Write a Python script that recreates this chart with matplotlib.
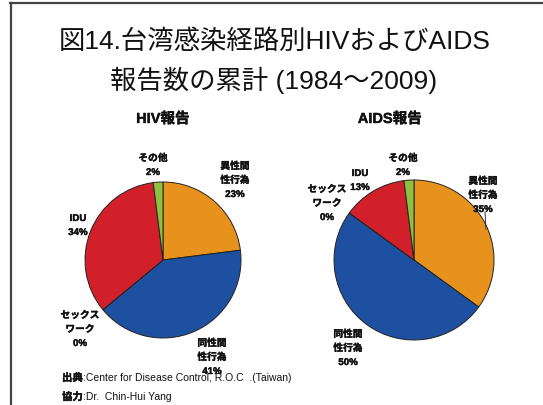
import matplotlib
matplotlib.use("Agg")
import matplotlib.pyplot as plt
import matplotlib.patheffects as pe
from matplotlib.lines import Line2D

plt.rcParams["font.family"] = ["Noto Sans CJK JP", "DejaVu Sans"]
LAT = ["Liberation Sans", "Noto Sans CJK JP"]
BOLD = [pe.withStroke(linewidth=0.25, foreground="black")]

W, H = 543, 405

# data
routes = ["異性間\n性行為", "同性間\n性行為", "セックス\nワーク", "IDU", "その他"]
hiv_pct = [23, 41, 0, 34, 2]
aids_pct = [35, 50, 0, 13, 2]
colors = ["#E8921E", "#1E50A2", "#1E50A2", "#D2202A", "#8EC23E"]

# label pixel positions (x, y of the label block centre)
hiv_label_pos = [(235, 180), (212, 357), (80, 329), (78, 225), (153, 165)]
aids_label_pos = [(483, 195), (348, 348), (327, 203), (360, 180), (403, 165)]


def fx(x):
    return x / W


def fy(y):
    return 1 - y / H


def draw_pie(fig, cx, cy, r, values, label_pos):
    ax = fig.add_axes([fx(cx - r), fy(cy + r), 2 * r / W, 2 * r / H])
    ax.pie(values, colors=colors, startangle=90, counterclock=False,
           wedgeprops=dict(edgecolor="#222222", linewidth=0.7))
    ax.set_xlim(-1, 1)
    ax.set_ylim(-1, 1)
    ax.set_aspect("equal")
    ax.axis("off")
    for name, v, (lx, ly) in zip(routes, values, label_pos):
        fig.text(fx(lx), fy(ly), f"{name}\n{v}%", ha="center", va="center",
                 fontsize=7, fontweight="bold", linespacing=1.5, family=LAT,
                 color="#111111", path_effects=BOLD)


fig = plt.figure(figsize=(W / 100, H / 100), dpi=100)

# frame lines (top and left)
fig.add_artist(Line2D([fx(10), 1], [fy(3), fy(3)], color="#444444", lw=1.6))
fig.add_artist(Line2D([fx(10.5), fx(10.5)], [fy(3), 0], color="#444444", lw=1.6))

fig.text(fx(275), fy(42), "図14.台湾感染経路別HIVおよびAIDS", ha="center", va="center",
         fontsize=19, family=LAT, color="#111111")
fig.text(fx(274), fy(80), "報告数の累計 (1984～2009)", ha="center", va="center",
         fontsize=19, family=LAT, color="#111111")

fig.text(fx(163), fy(119), "HIV報告", ha="center", va="center", fontsize=10.5,
         fontweight="bold", family=LAT, color="#111111", path_effects=BOLD)
fig.text(fx(390), fy(119), "AIDS報告", ha="center", va="center", fontsize=10.5,
         fontweight="bold", family=LAT, color="#111111", path_effects=BOLD)

draw_pie(fig, 163, 260, 78, hiv_pct, hiv_label_pos)
draw_pie(fig, 414, 260, 80, aids_pct, aids_label_pos)

# leader line for AIDS 異性間
fig.add_artist(Line2D([fx(485), fx(486)], [fy(212), fy(229)], color="#333333", lw=0.7))

fig.text(fx(62), fy(378), "出典", ha="left", va="center", fontsize=7.5, fontweight="bold",
         color="#111111", path_effects=BOLD)
fig.text(fx(83), fy(378), ":Center for Disease Control, R.O.C  .(Taiwan)", ha="left",
         va="center", fontsize=7.5, family=LAT, color="#111111")
fig.text(fx(62), fy(397), "協力", ha="left", va="center", fontsize=7.5, fontweight="bold",
         color="#111111", path_effects=BOLD)
fig.text(fx(83), fy(397), ":Dr.  Chin-Hui Yang", ha="left", va="center", fontsize=7.5,
         family=LAT, color="#111111")

fig.savefig("out.png", dpi=100)
